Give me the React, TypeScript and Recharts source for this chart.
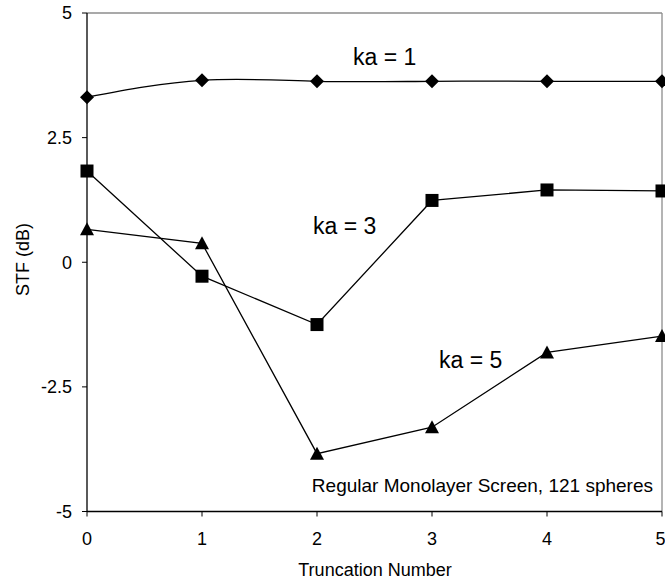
import { Line, LineChart, ReferenceLine, XAxis, YAxis } from "recharts";

const truncation = [0, 1, 2, 3, 4, 5];
const ka1 = [3.31, 3.65, 3.63, 3.63, 3.63, 3.63];
const ka3 = [1.83, -0.28, -1.25, 1.24, 1.45, 1.43];
const ka5 = [0.66, 0.38, -3.84, -3.31, -1.81, -1.48];
const yTicks = [-5, -2.5, 0, 2.5, 5];

const data = truncation.map((x, i) => ({ x, ka1: ka1[i], ka3: ka3[i], ka5: ka5[i] }));

const font = "'Liberation Sans', Arial, sans-serif";

function Diamond(props: any) {
  const { cx, cy } = props;
  if (cx == null || cy == null) return null;
  return <path d={`M${cx},${cy - 7}L${cx + 7},${cy}L${cx},${cy + 7}L${cx - 7},${cy}Z`} fill="#000" />;
}

function Square(props: any) {
  const { cx, cy } = props;
  if (cx == null || cy == null) return null;
  return <rect x={cx - 6.5} y={cy - 6.5} width={13} height={13} fill="#000" />;
}

function Triangle(props: any) {
  const { cx, cy } = props;
  if (cx == null || cy == null) return null;
  return <path d={`M${cx},${cy - 7}L${cx + 7},${cy + 6}L${cx - 7},${cy + 6}Z`} fill="#000" />;
}

export default function App() {
  return (
    <div style={{ position: "absolute", left: 0, top: 0, background: "#fff" }}>
      <LineChart width={665} height={583} data={data} margin={{ top: 13, right: 3, left: 0, bottom: 0 }}>
        <XAxis
          dataKey="x"
          type="number"
          domain={[0, 5]}
          ticks={truncation}
          height={71.5}
          tickSize={5}
          tickMargin={16}
          axisLine={{ stroke: "#000", strokeWidth: 1.3 }}
          tickLine={{ stroke: "#000" }}
          tick={{ fill: "#000", fontSize: 18, fontFamily: font }}
        />
        <YAxis
          type="number"
          domain={[-5, 5]}
          ticks={yTicks}
          width={87}
          tickSize={5}
          tickMargin={10}
          axisLine={{ stroke: "#000", strokeWidth: 1.3 }}
          tickLine={{ stroke: "#000" }}
          tick={{ fill: "#000", fontSize: 18, fontFamily: font }}
        />
        <ReferenceLine y={5} stroke="#8c8c8c" strokeWidth={1.3} />
        <ReferenceLine x={5} stroke="#8c8c8c" strokeWidth={1.3} />
        <Line dataKey="ka1" type="natural" stroke="#000" strokeWidth={1.3} dot={<Diamond />} isAnimationActive={false} />
        <Line dataKey="ka3" type="linear" stroke="#000" strokeWidth={1.3} dot={<Square />} isAnimationActive={false} />
        <Line dataKey="ka5" type="linear" stroke="#000" strokeWidth={1.3} dot={<Triangle />} isAnimationActive={false} />
        <text x={353} y={65} fontSize={23} fontFamily={font} fill="#000">ka = 1</text>
        <text x={313} y={234} fontSize={23} fontFamily={font} fill="#000">ka = 3</text>
        <text x={439} y={368} fontSize={23} fontFamily={font} fill="#000">ka = 5</text>
        <text x={653} y={492} textAnchor="end" fontSize={19} fontFamily={font} fill="#000">
          Regular Monolayer Screen, 121 spheres
        </text>
        <text x={375} y={576} textAnchor="middle" fontSize={18} fontFamily={font} fill="#000">
          Truncation Number
        </text>
        <text
          x={29}
          y={259.5}
          transform="rotate(-90 29 259.5)"
          textAnchor="middle"
          fontSize={18}
          fontFamily={font}
          fill="#000"
        >
          STF (dB)
        </text>
      </LineChart>
    </div>
  );
}
